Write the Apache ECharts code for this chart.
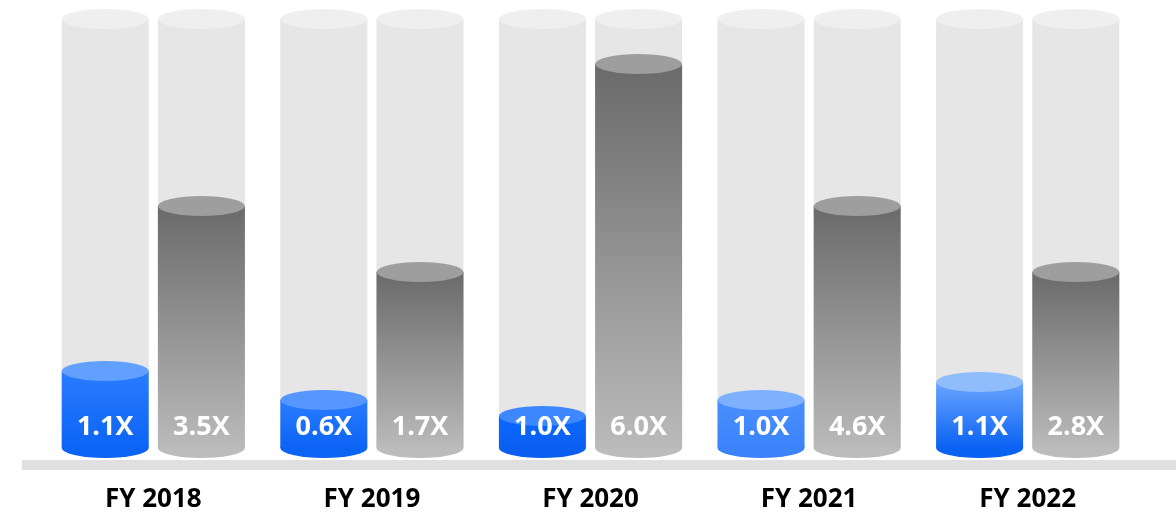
<!DOCTYPE html>
<html>
<head>
<meta charset="utf-8">
<script src="https://cdn.jsdelivr.net/npm/echarts@6/dist/echarts.min.js"></script>
<style>
html,body{margin:0;padding:0;background:#fff;}
#chart{width:1176px;height:515px;}
</style>
</head>
<body>
<div id="chart"></div>
<script>
// Data
const categories = ['FY 2018', 'FY 2019', 'FY 2020', 'FY 2021', 'FY 2022'];
const blueLabels = ['1.1X', '0.6X', '1.0X', '1.0X', '1.1X'];
const grayLabels = ['3.5X', '1.7X', '6.0X', '4.6X', '2.8X'];
// drawn heights of cylinders (visual scale, as shown in the picture)
const blueHeights = [77, 48, 32, 48, 66];
const grayHeights = [242, 176, 384, 242, 176];
const fullHeight = 429;

// styles (per category for blue cylinders, which vary in tone)
const blueBodyTop = ['#2a7cff', '#2a7cff', '#0d68ff', '#4a8fff', '#6aa4ff'];
const blueBodyBottom = ['#0c64f5', '#0c64f5', '#0a5ff0', '#3a83fa', '#0a62f3'];
const blueCap = ['#62a0ff', '#5597ff', '#3e88ff', '#7db1ff', '#8fbcfb'];

const chart = echarts.init(document.getElementById('chart'), null, {renderer: 'canvas'});
const RY = 10;

function makeRender(sign, labels, styleFn) {
  return function (params, api) {
    const idx = api.value(0);
    const v = api.value(1);
    const base = api.coord([idx, 0]);
    const top = api.coord([idx, v]);
    const full = api.coord([idx, fullHeight]);
    const band = api.size([1, 0])[0];
    const w = band * 0.398;
    const cx = base[0] + sign * band * 0.22;
    const r = w / 2;
    const sy = RY / r;
    const st = styleFn(idx);
    return {
      type: 'group',
      children: [
        {type: 'rect', shape: {x: cx - r, y: full[1], width: w, height: base[1] - full[1]}, style: {fill: '#e6e6e6'}},
        {type: 'circle', x: cx, y: full[1], scaleY: sy, shape: {cx: 0, cy: 0, r: r}, style: {fill: '#efefef'}},
        {type: 'circle', x: cx, y: base[1], scaleY: sy, shape: {cx: 0, cy: 0, r: r}, style: {fill: st.bottom}},
        {type: 'rect', shape: {x: cx - r, y: top[1], width: w, height: base[1] - top[1]}, style: {fill: st.body}},
        {type: 'circle', x: cx, y: top[1], scaleY: sy, shape: {cx: 0, cy: 0, r: r}, style: {fill: st.top}},
        {type: 'text', x: cx, y: base[1] - 21, style: {text: labels[idx], fill: '#ffffff', font: 'bold 27px "Open Sans"', align: 'center', verticalAlign: 'middle'}}
      ]
    };
  };
}

function blueStyle(i) {
  return {
    body: new echarts.graphic.LinearGradient(0, 0, 0, 1, [{offset: 0, color: blueBodyTop[i]}, {offset: 1, color: blueBodyBottom[i]}]),
    top: blueCap[i],
    bottom: blueBodyBottom[i]
  };
}
function grayStyle(i) {
  return {
    body: new echarts.graphic.LinearGradient(0, 0, 0, 1, [{offset: 0, color: '#6a6a6a'}, {offset: 1, color: '#bababa'}]),
    top: '#9e9e9e',
    bottom: '#bcbcbc'
  };
}

chart.setOption({
  backgroundColor: '#ffffff',
  animation: false,
  graphic: [
    {type: 'rect', left: 22, top: 460, shape: {width: 1154, height: 10}, style: {fill: '#e0e0e0'}, z: 0}
  ],
  grid: {left: 44, width: 1093, top: 19, height: 429},
  xAxis: {
    type: 'category',
    data: categories,
    axisLine: {show: false},
    axisTick: {show: false},
    axisLabel: {margin: 39, color: '#000', fontWeight: 'bold', fontSize: 26, fontFamily: 'Open Sans'}
  },
  yAxis: {type: 'value', min: 0, max: fullHeight, show: false, splitLine: {show: false}},
  series: [
    {type: 'custom', renderItem: makeRender(-1, blueLabels, blueStyle), data: blueHeights.map((v, i) => [i, v]), z: 2},
    {type: 'custom', renderItem: makeRender(1, grayLabels, grayStyle), data: grayHeights.map((v, i) => [i, v]), z: 2}
  ]
});
</script>
</body>
</html>
